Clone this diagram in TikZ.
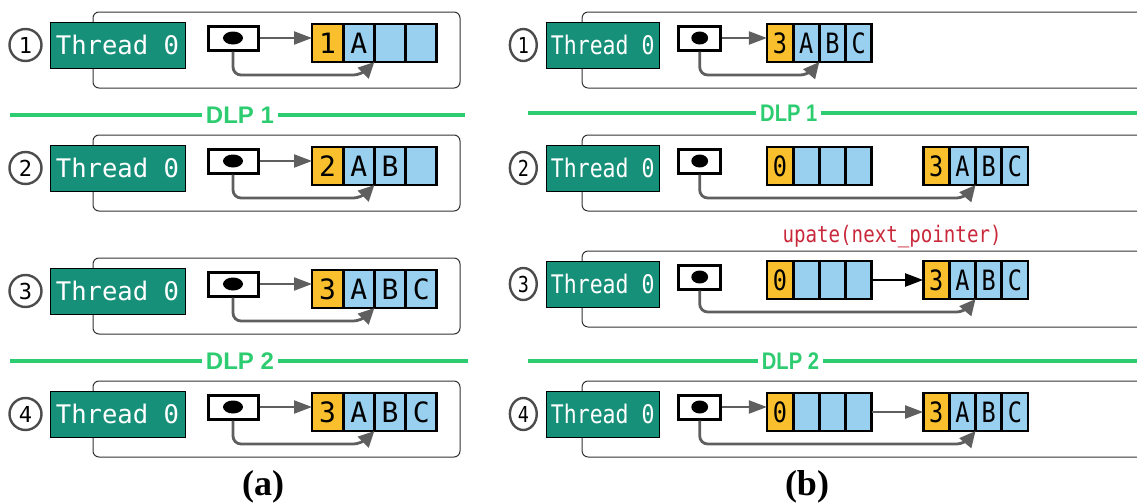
\documentclass[tikz,border=0pt]{standalone}
\usepackage{fontspec}
\setmainfont{Liberation Serif}
\setsansfont{Liberation Sans}
\setmonofont{DejaVu Sans Mono}
\usetikzlibrary{arrows.meta,shapes.geometric,positioning}

\definecolor{thrteal}{HTML}{17907A}
\definecolor{headY}{HTML}{F9BF2C}
\definecolor{slotB}{HTML}{99CFEF}
\definecolor{dlpgreen}{HTML}{2ECC71}
\definecolor{ptrgray}{HTML}{5F5F5F}
\definecolor{updred}{HTML}{C8283A}

\begin{document}
\begin{tikzpicture}[x=0.5pt,y=-0.5pt,
    frame/.style={draw=black!80, rounded corners=3pt, line width=0.5pt},
    num/.style={circle, draw=black!70, line width=1.2pt, fill=white, minimum size=16pt, inner sep=0pt, font=\ttfamily\fontsize{11}{12}\selectfont},
    thr/.style={draw=black, fill=thrteal, text=white, line width=0.5pt, minimum width=67.5pt, minimum height=23pt, inner sep=0pt, font=\ttfamily\fontsize{12.8}{14}\selectfont},
    ptr/.style={draw=black, fill=white, line width=1.5pt, minimum width=25pt, minimum height=12pt, inner sep=0pt},
    hole/.style={ellipse, fill=black, minimum width=10pt, minimum height=6.5pt, inner sep=0pt},
    slot/.style={draw=black, line width=1.4pt, minimum width=15.6pt, minimum height=19pt, inner sep=0pt, outer sep=0pt, font=\ttfamily\fontsize{14}{14}\selectfont},
    hd/.style={slot, fill=headY},
    el/.style={slot, fill=slotB},
    arr/.style={-{Triangle[length=9pt,width=6.5pt]}, ptrgray, line width=1.1pt},
    back/.style={-{Triangle[length=8pt,width=7.5pt]}, ptrgray, rounded corners=4pt, line width=1.4pt},
    dlp/.style={draw=dlpgreen, line width=2pt},
    dlptxt/.style={text=dlpgreen, inner sep=2pt, font=\sffamily\bfseries\fontsize{12}{12}\selectfont},
    upd/.style={text=updred, inner sep=0pt, font=\ttfamily\fontsize{11.4}{12}\selectfont},
    figcap/.style={inner sep=0pt, font=\rmfamily\bfseries\fontsize{18}{18}\selectfont}
]
\useasboundingbox (0,0) rectangle (1137,503);

% (a) left side
\foreach \r/\y in {1/45,2/168,3/291,4/414} {
  \draw[frame] (93,{\y-33}) rectangle (460,{\y+43});
  \node[num] (Ln\r) at (25.5,\y) {\r};
  \node[thr] (Lt\r) at (117.5,\y) {Thread 0};
  \node[ptr] (Lp\r) at (233,{\y-7}) {};
  \node[hole] (Lh\r) at (Lp\r) {};
}
\foreach \r/\y/\h/\a/\b/\c in {1/45/1/A//,2/168/2/A/B/,3/291/3/A/B/C,4/414/3/A/B/C} {
  \node[hd] (Lc\r1) at (327.6,{\y-2}) {\h};
  \node[el, right=0pt of Lc\r1] (Lc\r2) {\a};
  \node[el, right=0pt of Lc\r2] (Lc\r3) {\b};
  \node[el, right=0pt of Lc\r3] (Lc\r4) {\c};
  \draw[arr] (Lp\r.east) -- (Lp\r.east -| Lc\r1.west);
  \draw[back] (Lp\r.south) |- ([xshift=-6.5pt,yshift=-6.5pt]Lc\r2.south east) -- (Lc\r2.south east);
}

\coordinate (Ld1w) at (10,115);
\coordinate (Ld1e) at (465,115);
\node[dlptxt] (Ld1) at (240,115) {DLP 1};
\draw[dlp] (Ld1w) -- (Ld1.west);
\draw[dlp] (Ld1.east) -- (Ld1e);
\coordinate (Ld2w) at (10,361);
\coordinate (Ld2e) at (468,361);
\node[dlptxt] (Ld2) at (240,361) {DLP 2};
\draw[dlp] (Ld2w) -- (Ld2.west);
\draw[dlp] (Ld2.east) -- (Ld2e);

\node[figcap] (capa) at (263,487) {(a)};

% (b) right side
\begin{scope}[shift={(504,0)},xscale=0.84,transform shape]
\foreach \r/\y in {1/45,2/168,3/284,4/414} {
  \draw[frame] (93,{\y-33}) rectangle (800,{\y+43});
  \node[num] (Rn\r) at (23,\y) {\r};
  \node[thr] (Rt\r) at (117.5,\y) {Thread 0};
  \node[ptr] (Rp\r) at (233,{\y-7}) {};
  \node[hole] (Rh\r) at (Rp\r) {};
}
% single list in row 1
\node[hd] (Ra11) at (328.6,43) {3};
\node[el, right=0pt of Ra11] (Ra12) {A};
\node[el, right=0pt of Ra12] (Ra13) {B};
\node[el, right=0pt of Ra13] (Ra14) {C};
\draw[arr] (Rp1.east) -- (Rp1.east -| Ra11.west);
\draw[back] (Rp1.south) |- ([xshift=-6.5pt,yshift=-6.5pt]Ra12.south east) -- (Ra12.south east);
% new empty list and old list
\foreach \r/\y in {2/168,3/282,4/414} {
  \node[hd] (Ra\r1) at (328.6,{\y-2}) {0};
  \node[el, right=0pt of Ra\r1] (Ra\r2) {};
  \node[el, right=0pt of Ra\r2] (Ra\r3) {};
  \node[el, right=0pt of Ra\r3] (Ra\r4) {};
  \node[hd] (Rb\r1) at (514.6,{\y-2}) {3};
  \node[el, right=0pt of Rb\r1] (Rb\r2) {A};
  \node[el, right=0pt of Rb\r2] (Rb\r3) {B};
  \node[el, right=0pt of Rb\r3] (Rb\r4) {C};
  \draw[back] (Rp\r.south) |- ([xshift=-6.5pt,yshift=-6.5pt]Rb\r2.south east) -- (Rb\r2.south east);
}
\draw[arr, black] (Ra34.east) -- (Rb31.west);
\node[upd] (Rupd) at (462,237) {upate(next\_pointer)};
\draw[arr] (Rp4.east) -- (Rp4.east -| Ra41.west);
\draw[arr] (Ra44.east) -- (Rb41.west);

\coordinate (Rd1w) at (29,113);
\coordinate (Rd1e) at (760,113);
\node[dlptxt] (Rd1) at (339,113) {DLP 1};
\draw[dlp] (Rd1w) -- (Rd1.west);
\draw[dlp] (Rd1.east) -- (Rd1e);
\coordinate (Rd2w) at (29,361);
\coordinate (Rd2e) at (760,361);
\node[dlptxt] (Rd2) at (341,361) {DLP 2};
\draw[dlp] (Rd2w) -- (Rd2.west);
\draw[dlp] (Rd2.east) -- (Rd2e);
\end{scope}

\node[figcap] (capb) at (807,487) {(b)};
\end{tikzpicture}
\end{document}
